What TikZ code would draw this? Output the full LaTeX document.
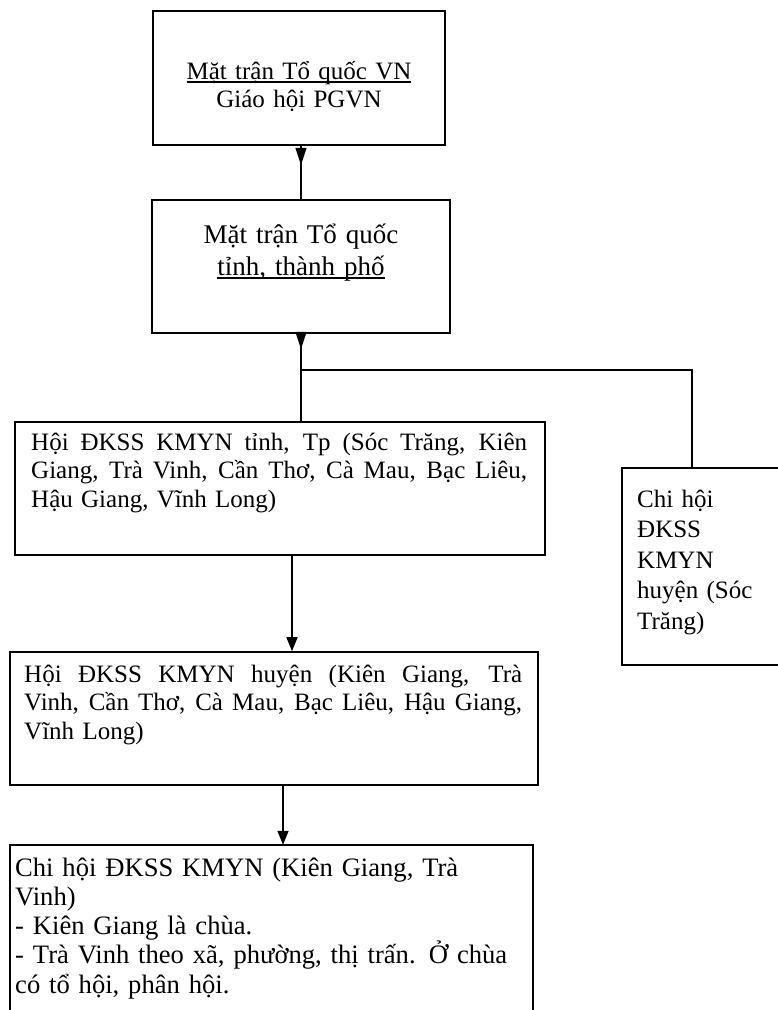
\documentclass[tikz,border=0pt]{standalone}
\usepackage{fontspec}
\setmainfont{Liberation Serif}
\usetikzlibrary{arrows.meta}
\newsavebox{\myulbox}
\newcommand{\myul}[1]{\leavevmode\sbox{\myulbox}{#1}\rlap{\rule[-3.5pt]{\wd\myulbox}{1.3pt}}\usebox{\myulbox}}
\newcommand{\jline}[2]{\leavevmode\hbox to #1{\spaceskip=0.25em plus 1fil\relax #2}}
\begin{document}
\begin{tikzpicture}[x=1pt,y=-1pt,
  frame/.style={draw, line width=1.6pt, rectangle, inner sep=0pt},
  openbox/.style={rectangle, inner sep=0pt},
  conn/.style={line width=1.6pt},
  arrtop/.style={line width=1.6pt, -{Triangle[length=17pt,width=11pt]}},
  arr/.style={line width=1.6pt, -{Triangle[length=14pt,width=11pt]}},
  txt/.style={inner sep=0pt}]
\useasboundingbox (0,0) rectangle (778,1010);
% boxes
\node[frame, minimum width=292pt, minimum height=134pt] (b1) at (299,78) {};
\node[frame, minimum width=298pt, minimum height=133pt] (b2) at (301,266.5) {};
\node[frame, minimum width=530pt, minimum height=133pt] (b3) at (280,488.5) {};
\node[frame, minimum width=528pt, minimum height=133pt] (b4) at (274,718.5) {};
\node[openbox, minimum width=157pt, minimum height=197pt] (rb) at (700.5,566.5) {};
\node[openbox, minimum width=523pt, minimum height=167pt] (b5) at (271.5,928.5) {};
\draw[conn] (rb.north east) -- (rb.north west) -- (rb.south west) -- (rb.south east);
\draw[conn] (b5.south east) -- (b5.north east) -- (b5.north west) -- (b5.south west);
% texts
\node[txt, anchor=base, text width=280pt, align=center, font=\fontsize{25}{28}\selectfont] (t1) at (299,79)
  {\myul{Mặt trận Tổ quốc VN}\\Giáo hội PGVN};
\node[txt, anchor=base, text width=290pt, align=center, font=\fontsize{27}{32}\selectfont] (t2) at (301,243)
  {Mặt trận Tổ quốc\\\myul{tỉnh, thành phố}};
\node[txt, anchor=base west, text width=540pt, align=left, font=\fontsize{25}{28.5}\selectfont] (t3) at (31,450)
  {\jline{496pt}{Hội ĐKSS KMYN tỉnh, Tp (Sóc Trăng, Kiên}\\
   \jline{496pt}{Giang, Trà Vinh, Cần Thơ, Cà Mau, Bạc Liêu,}\\
   Hậu Giang, Vĩnh Long)};
\node[txt, anchor=base west, text width=540pt, align=left, font=\fontsize{25}{28.5}\selectfont] (t4) at (24,682)
  {\jline{498pt}{Hội ĐKSS KMYN huyện (Kiên Giang, Trà}\\
   \jline{498pt}{Vinh, Cần Thơ, Cà Mau, Bạc Liêu, Hậu Giang,}\\
   Vĩnh Long)};
\node[txt, anchor=base west, text width=135pt, align=left, font=\fontsize{25}{30.5}\selectfont] (t5) at (637,507)
  {Chi hội\\ĐKSS\\KMYN\\huyện (Sóc\\Trăng)};
\node[txt, anchor=base west, text width=540pt, align=left, font=\fontsize{26.6}{29.3}\selectfont] (t6) at (15,876)
  {Chi hội ĐKSS KMYN (Kiên Giang, Trà\\
   Vinh)\\
   - Kiên Giang là chùa.\\
   - Trà Vinh theo xã, phường, thị trấn. Ở chùa\\
   có tổ hội, phân hội.};
% connectors
\coordinate (j1) at (b1.south -| b2.north);
\draw[conn] (j1) -- (b2.north);
\draw[arrtop] (j1) -- ++(0,19);
\coordinate (j2) at (301,370);
\coordinate (j5) at (692,370);
\draw[conn] (b2.south) -- (b2.south |- b3.north);
\draw[arrtop] (b2.south) -- ++(0,15);
\draw[conn] (j2) -- (j5) -- (j5 |- rb.north);
\coordinate (j3) at (292,0);
\draw[arr] (b3.south -| j3) -- (b4.north -| j3);
\coordinate (j4) at (283,0);
\draw[arr] (b4.south -| j4) -- (b5.north -| j4);
\end{tikzpicture}
\end{document}
